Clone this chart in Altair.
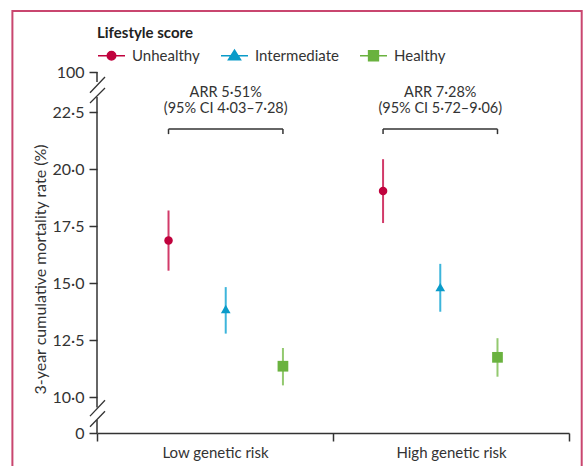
import altair as alt
import pandas as pd

# ---------------- data ----------------
groups = ["Low genetic risk", "High genetic risk"]
series = ["Unhealthy", "Intermediate", "Healthy"]

low_rate = [16.86, 13.86, 11.35]
low_ci_lower = [15.54, 12.78, 10.51]
low_ci_upper = [18.18, 14.82, 12.15]
high_rate = [19.03, 14.82, 11.74]
high_ci_lower = [17.63, 13.74, 10.89]
high_ci_upper = [20.43, 15.84, 12.58]

arr_text = ["ARR 5·51%", "ARR 7·28%"]
ci_text = ["(95% CI 4·03–7·28)", "(95% CI 5·72–9·06)"]

y_tick_values = [0, 10, 12.5, 15, 17.5, 20, 22.5, 100]
y_title = "3-year cumulative mortality rate (%)"
legend_title = "Lifestyle score"

# ---------------- styles / layout ----------------
point_colors = ["#C0023D", "#0A9BC9", "#6AB23F"]
bar_colors = ["#D23A69", "#3DB5DB", "#93C96F"]
point_shapes = ["circle", "triangle-up", "square"]
point_sizes = [72, 115, 81]
legend_shapes = [
    "M-1,0H1M-0.31,0A0.31,0.31,0,1,1,0.31,0A0.31,0.31,0,1,1,-0.31,0Z",
    "M-1,0H1M-0.44,0.3L0,-0.4L0.44,0.3Z",
    "M-1,0H1M-0.36,-0.36H0.36V0.36H-0.36Z",
]
TEXT = "#333333"
AXIS = "#333333"
BORDER = "#C9466F"
FONT = "Lato"

W, H = 472, 361
GROUP_STEP = 3.75
X_DOMAIN = [-1.25, 7.0]
Y_DOMAIN = [0, 10, 22.5, 100]
Y_RANGE = [H, H - 36, 40, 0]
BRACKET_LEVEL = 21.75
BRACKET_END = 21.53
# axis line pieces and break marks (y units of the broken scale)
axis_pieces = [(100, 80.6), (51.6, 7.1), (3.6, 0)]
break_slashes = [(59.9, 90.3), (39.9, 69.0), (4.68, 9.09), (1.74, 6.06)]

# ---------------- tables ----------------
rows = []
sets = [(low_rate, low_ci_lower, low_ci_upper), (high_rate, high_ci_lower, high_ci_upper)]
for gi, (rate, lo, hi) in enumerate(sets):
    for si, s in enumerate(series):
        rows.append(dict(group=groups[gi], series=s, pos=gi * GROUP_STEP + si,
                         rate=rate[si], lo=lo[si], hi=hi[si]))
pts = pd.DataFrame(rows)

br_rows, end_rows = [], []
for gi, g in enumerate(groups):
    sub = pts[pts.group == g]
    p_first, p_last = sub.pos.min(), sub.pos.max()
    br_rows.append(dict(group=g, x1=p_first, x2=p_last, mid=(p_first + p_last) / 2,
                        level=BRACKET_LEVEL, arr=arr_text[gi], ci=ci_text[gi]))
    for p in (p_first, p_last):
        end_rows.append(dict(x=p, y1=BRACKET_LEVEL, y2=BRACKET_END))
brk = pd.DataFrame(br_rows)
ends = pd.DataFrame(end_rows)
pieces = pd.DataFrame(axis_pieces, columns=["a", "b"])
slashes = pd.DataFrame(break_slashes, columns=["a", "b"])

label_expr = ("datum.value == 0 ? '0' : datum.value == 100 ? '100' : "
              "replace(format(datum.value, '.1f'), '.', '·')")

yaxis = alt.Axis(values=y_tick_values, labelExpr=label_expr, domain=False, grid=False,
                 tickSize=8, tickWidth=1.5, tickColor=AXIS, labelFontSize=16,
                 labelColor=TEXT, labelPadding=5, labelOverlap=False, labelFlush=False,
                 labelFont=FONT, title=y_title, titleFontSize=16, titleFontWeight="normal",
                 titleColor=TEXT, titleFont=FONT, titleAngle=270, titleAlign="center",
                 titleBaseline="middle", titleX=-57, titleY=197)

xq = lambda f: alt.X(f, type="quantitative",
                     scale=alt.Scale(domain=X_DOMAIN, nice=False, zero=False), axis=None)
yscale = alt.Scale(type="linear", domain=Y_DOMAIN, range=Y_RANGE, nice=False, zero=False)
yq = lambda f: alt.Y(f, type="quantitative", scale=yscale, axis=yaxis)

# x band axis (group labels)
band = alt.Chart(pd.DataFrame({"group": groups})).mark_point(opacity=0).encode(
    x=alt.X("group:N", scale=alt.Scale(type="band", domain=groups, paddingInner=0, paddingOuter=0),
            axis=alt.Axis(title=None, tickBand="extent", tickSize=8, tickWidth=1.5, tickColor=AXIS,
                          domainColor=AXIS, domainWidth=1.5, labelFontSize=15, labelColor=TEXT,
                          labelPadding=4, labelAngle=0, labelFont=FONT)),
)

axis_line = alt.Chart(pieces).mark_rule(color=AXIS, strokeWidth=1.5).encode(
    x=alt.value(0), y=yq("a"), y2="b")
slash = alt.Chart(slashes).mark_rule(color=AXIS, strokeWidth=1.3).encode(
    x=alt.value(-7), x2=alt.value(8), y=yq("a"), y2="b")

bars = alt.Chart(pts).mark_rule(strokeWidth=2).encode(
    x=xq("pos"), y=yq("lo"), y2="hi",
    color=alt.Color("series:N", scale=alt.Scale(domain=series, range=bar_colors), legend=None),
)
points = alt.Chart(pts).mark_point(filled=True, opacity=1).encode(
    x=xq("pos"), y=yq("rate"),
    color=alt.Color("series:N", scale=alt.Scale(domain=series, range=point_colors), legend=None),
    shape=alt.Shape("series:N", scale=alt.Scale(domain=series, range=point_shapes), legend=None),
    size=alt.Size("series:N", scale=alt.Scale(domain=series, range=point_sizes), legend=None),
)

bracket_h = alt.Chart(brk).mark_rule(color=AXIS, strokeWidth=1.5).encode(
    x=xq("x1"), x2="x2", y=yq("level"))
bracket_v = alt.Chart(ends).mark_rule(color=AXIS, strokeWidth=1.5).encode(
    x=xq("x"), y=yq("y1"), y2="y2")
txt1 = alt.Chart(brk).mark_text(fontSize=14.5, color=TEXT, font=FONT, align="center",
                                baseline="alphabetic", dy=-32).encode(
    x=xq("mid"), y=yq("level"), text="arr:N")
txt2 = alt.Chart(brk).mark_text(fontSize=14.5, color=TEXT, font=FONT, align="center",
                                baseline="alphabetic", dy=-16).encode(
    x=xq("mid"), y=yq("level"), text="ci:N")

leg = alt.Legend(title=legend_title, orient="none", legendX=0, legendY=-46, direction="horizontal",
                 columns=3, titleFontSize=15, titleFontWeight="bold", titleColor="#222222",
                 titleFont=FONT, titlePadding=0, labelFontSize=15, labelColor=TEXT, labelFont=FONT,
                 labelOffset=6, columnPadding=17, symbolSize=729, symbolStrokeWidth=1.6)
legend_layer = alt.Chart(pd.DataFrame({"series": series})).mark_point(filled=True, opacity=1).encode(
    x=alt.value(0), y=alt.value(-500),
    fill=alt.Fill("series:N", scale=alt.Scale(domain=series, range=point_colors), legend=leg),
    stroke=alt.Stroke("series:N", scale=alt.Scale(domain=series, range=point_colors), legend=leg),
    shape=alt.Shape("series:N", scale=alt.Scale(domain=series, range=legend_shapes), legend=leg),
)

border = alt.Chart(pd.DataFrame({"k": [0]})).mark_rect(
    fill="transparent", stroke=BORDER, strokeWidth=2).encode(
    x=alt.value(-84.6), x2=alt.value(484.7), y=alt.value(-61), y2=alt.value(440))

chart = alt.layer(
    border, band, axis_line, slash, bars, points, bracket_h, bracket_v, txt1, txt2,
    legend_layer,
).resolve_scale(
    x="independent", color="independent", shape="independent", size="independent",
    fill="independent", stroke="independent",
).properties(
    width=W, height=H,
    padding={"left": 97, "top": 72, "right": 18, "bottom": 33},
    autosize=alt.AutoSizeParams(type="none"),
).configure(font=FONT).configure_view(stroke=None)

chart.save("out.html", embed_options={"renderer": "svg", "actions": False})
